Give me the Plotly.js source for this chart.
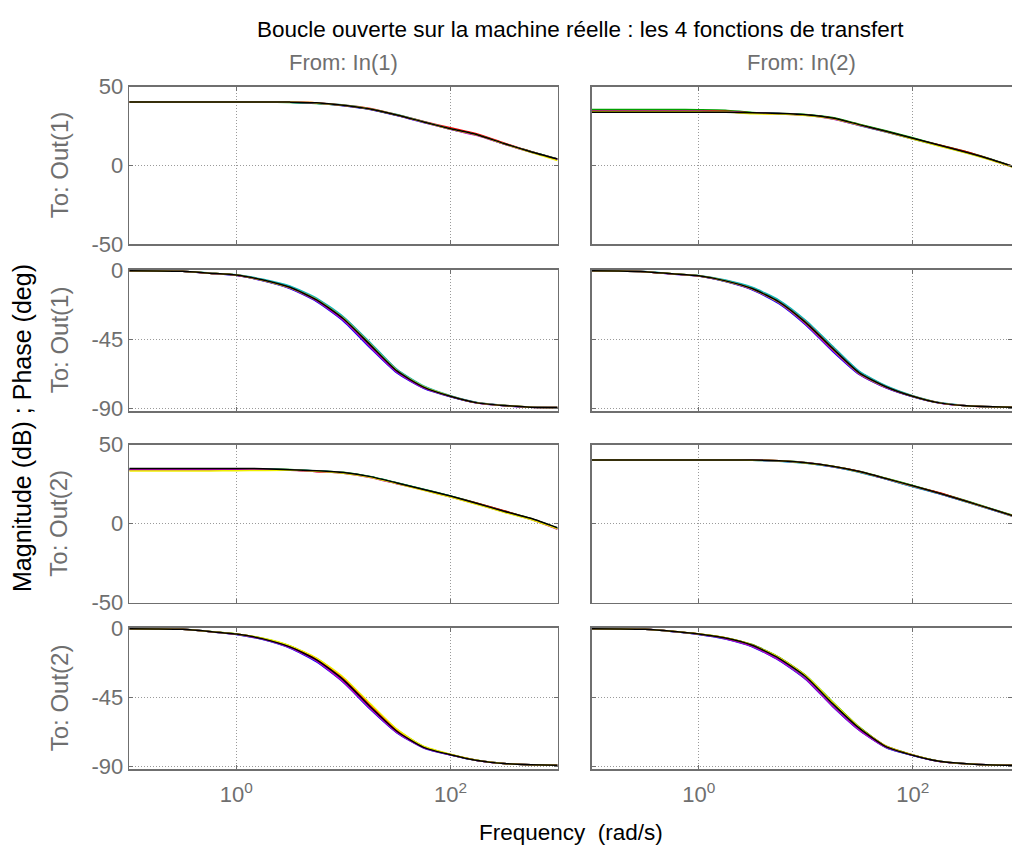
<!DOCTYPE html>
<html>
<head>
<meta charset="utf-8">
<script src="https://cdn.plot.ly/plotly-3.0.1.min.js"></script>
<style>html,body{margin:0;padding:0;background:#fff;}#chart{width:1012px;height:853px;}</style>
</head>
<body>
<div id="chart"></div>
<script>
// Frequencies (rad/s), quarter-decade points
const freq = [0.1, 0.178, 0.316, 0.562, 1, 1.78, 3.16, 5.62, 10, 17.8, 31.6, 56.2, 100, 178, 316, 562, 1000];

// Series order: blue, green, red, cyan, magenta, yellow, black
const seriesNames = ['b', 'g', 'r', 'c', 'm', 'y', 'k'];
const seriesColors = ['#0000ff', '#00a000', '#ff0000', '#10b8b8', '#c000c0', '#f0f000', '#000000'];

// Magnitude (dB) : Out(1) from In(1)
const magOut1In1 = [
  [40.3,40.3,40.3,40.3,40.3,40.3,40.1,39.5,37.9,35.5,31.7,27.3,23.0,19.2,13.6,8.5,3.8],
  [40.3,40.3,40.3,40.3,40.3,40.3,40.0,39.3,38.0,35.6,31.8,27.8,23.1,19.4,13.7,8.9,4.1],
  [40.3,40.3,40.3,40.3,40.3,40.3,40.2,39.7,38.3,36.1,32.2,27.9,23.9,19.9,14.2,8.8,4.0],
  [40.3,40.3,40.3,40.3,40.3,40.3,40.1,39.4,38.3,35.9,32.3,27.8,23.2,19.3,13.8,8.6,3.9],
  [40.3,40.3,40.3,40.3,40.3,40.3,40.2,39.6,38.1,35.7,31.9,27.4,22.9,18.9,13.5,8.4,3.7],
  [40.3,40.3,40.3,40.3,40.3,40.3,40.2,39.7,38.2,35.8,32.0,27.5,23.1,19.3,13.7,8.3,3.0],
  [40.3,40.3,40.3,40.3,40.3,40.3,40.2,39.8,38.2,35.8,32.0,27.6,23.3,19.5,13.9,8.7,4.0]
];
// Magnitude (dB) : Out(1) from In(2)
const magOut1In2 = [
  [34.4,34.4,34.4,34.4,34.4,34.3,33.4,32.9,32.1,30.0,25.7,21.6,17.0,12.6,8.2,3.3,-2.4],
  [35.5,35.5,35.5,35.5,35.4,35.1,33.6,33.1,32.4,30.4,26.2,22.0,17.5,13.0,8.6,3.6,-2.0],
  [34.5,34.5,34.5,34.5,34.5,34.4,33.4,32.7,32.0,29.9,25.6,21.3,16.9,12.9,8.7,3.5,-2.1],
  [34.2,34.2,34.2,34.2,34.2,34.0,33.3,32.8,31.9,29.6,25.4,21.2,16.7,12.4,8.0,3.2,-2.5],
  [34.3,34.3,34.3,34.3,34.3,34.1,33.2,32.9,31.8,29.5,25.5,21.4,16.9,12.5,8.1,3.1,-2.6],
  [34.0,34.0,34.0,34.0,34.0,33.9,32.8,32.6,31.7,29.8,25.8,21.5,16.8,12.2,7.8,2.9,-2.7],
  [33.7,33.7,33.7,33.7,33.7,33.7,33.5,33.0,32.2,30.1,25.9,21.7,17.2,12.8,8.3,3.4,-2.3]
];
// Magnitude (dB) : Out(2) from In(1)
const magOut2In1 = [
  [34.3,34.3,34.3,34.3,34.4,34.5,34.0,33.3,32.1,29.5,25.5,21.4,17.1,12.5,7.6,3.0,-3.0],
  [34.4,34.4,34.4,34.4,34.5,34.7,34.3,33.4,32.5,29.9,25.9,21.8,17.6,13.0,8.1,3.3,-2.8],
  [34.2,34.2,34.2,34.2,34.3,34.4,34.1,32.9,32.3,29.6,25.6,21.5,17.3,12.9,8.2,3.1,-3.1],
  [34.3,34.3,34.3,34.3,34.4,34.6,34.2,33.4,32.2,29.7,25.7,21.6,17.4,12.6,7.7,2.9,-3.0],
  [34.1,34.1,34.1,34.1,34.2,34.3,33.9,33.1,32.0,29.3,25.3,21.3,17.0,12.4,7.5,2.8,-3.6],
  [33.4,33.4,33.4,33.4,33.5,33.7,33.8,33.2,32.0,29.4,25.4,21.1,16.9,12.2,7.3,2.7,-3.2],
  [35.0,35.0,35.0,35.0,35.0,34.8,34.2,33.5,32.4,29.8,25.8,21.7,17.5,12.8,7.9,3.4,-2.6]
];
// Magnitude (dB) : Out(2) from In(2)
const magOut2In2 = [
  [40.3,40.3,40.3,40.3,40.3,40.3,40.2,39.7,38.4,36.0,32.7,28.3,23.6,19.0,13.9,8.7,3.5],
  [40.3,40.3,40.3,40.3,40.3,40.3,40.3,39.8,38.7,36.4,33.2,28.8,24.2,19.5,14.5,9.2,3.9],
  [40.3,40.3,40.3,40.3,40.3,40.3,40.3,39.9,38.5,36.2,33.1,28.5,23.8,19.6,14.3,8.9,3.6],
  [40.3,40.3,40.3,40.3,40.3,40.3,40.2,39.6,38.3,36.1,32.6,28.2,23.4,18.9,13.8,8.6,3.2],
  [40.3,40.3,40.3,40.3,40.3,40.3,40.3,39.8,38.5,36.2,32.9,28.4,23.7,19.1,14.0,8.8,3.4],
  [40.3,40.3,40.3,40.3,40.3,40.3,40.2,39.8,38.4,36.3,32.8,28.6,23.9,19.2,14.1,8.9,3.6],
  [40.3,40.3,40.3,40.3,40.3,40.3,40.3,39.9,38.6,36.3,33.0,28.6,24.0,19.3,14.2,9.0,3.7]
];
// Phase (deg) : Out(1) from In(1)
const phaseOut1In1 = [
  [-0.2,-0.3,-0.6,-1.9,-3.2,-6.8,-11.8,-20.3,-33.0,-50.5,-66.8,-76.8,-82.3,-86.4,-88.1,-89.1,-89.4],
  [-0.2,-0.3,-0.6,-1.8,-3.1,-6.5,-11.3,-19.6,-32.0,-49.2,-66.0,-76.2,-82.1,-86.2,-88.0,-89.0,-89.4],
  [-0.2,-0.3,-0.6,-1.8,-3.0,-6.2,-10.8,-18.6,-30.6,-47.4,-64.6,-75.6,-81.8,-86.2,-87.9,-89.0,-89.4],
  [-0.2,-0.3,-0.6,-1.7,-2.8,-5.8,-10.2,-18.0,-30.2,-47.0,-64.5,-75.3,-81.6,-86.0,-87.9,-89.0,-89.4],
  [-0.2,-0.3,-0.6,-1.9,-3.1,-6.6,-11.5,-19.8,-32.5,-49.8,-66.3,-76.5,-82.2,-86.4,-88.1,-89.1,-89.4],
  [-0.2,-0.3,-0.6,-1.8,-3.0,-6.4,-11.2,-19.0,-31.2,-48.2,-65.2,-75.8,-81.9,-86.3,-88.0,-89.1,-89.4],
  [-0.2,-0.3,-0.6,-1.8,-3.0,-6.3,-11.0,-19.2,-31.5,-48.5,-65.5,-76.0,-82.0,-86.3,-88.0,-89.1,-89.4]
];
// Phase (deg) : Out(1) from In(2)
const phaseOut1In2 = [
  [-0.2,-0.3,-0.8,-2.3,-3.7,-7.3,-12.6,-21.6,-35.5,-52.6,-67.8,-76.5,-82.3,-86.4,-88.2,-88.9,-89.2],
  [-0.2,-0.3,-0.8,-2.2,-3.6,-7.0,-12.1,-20.9,-34.5,-51.4,-67.2,-76.1,-82.1,-86.3,-88.2,-88.9,-89.2],
  [-0.2,-0.3,-0.8,-2.2,-3.5,-6.6,-11.4,-19.8,-33.0,-49.8,-66.0,-75.4,-81.8,-86.2,-88.1,-88.9,-89.2],
  [-0.2,-0.3,-0.7,-2.1,-3.3,-6.3,-11.0,-19.3,-32.5,-49.2,-65.6,-75.1,-81.6,-86.1,-88.1,-88.9,-89.2],
  [-0.2,-0.3,-0.8,-2.3,-3.6,-7.1,-12.3,-21.2,-35.0,-52.0,-67.5,-76.3,-82.2,-86.4,-88.2,-88.9,-89.2],
  [-0.2,-0.3,-0.8,-2.2,-3.5,-6.9,-11.9,-20.7,-34.2,-51.0,-66.9,-75.9,-82.0,-86.3,-88.2,-88.9,-89.2],
  [-0.2,-0.3,-0.8,-2.2,-3.5,-6.8,-11.8,-20.5,-34.0,-50.8,-66.7,-75.8,-82.0,-86.3,-88.2,-88.9,-89.2]
];
// Phase (deg) : Out(2) from In(1)
const phaseOut2In1 = [
  [-0.2,-0.3,-0.6,-2.1,-3.9,-7.3,-12.8,-21.8,-35.2,-52.6,-68.0,-77.9,-82.5,-86.1,-88.0,-88.8,-89.2],
  [-0.2,-0.3,-0.6,-2.0,-3.6,-6.5,-11.4,-19.6,-32.3,-49.6,-66.0,-77.0,-82.1,-85.9,-88.0,-88.8,-89.2],
  [-0.2,-0.3,-0.6,-2.0,-3.7,-6.7,-11.6,-19.8,-32.6,-50.0,-66.4,-77.2,-82.2,-86.0,-88.0,-88.8,-89.2],
  [-0.2,-0.3,-0.6,-2.0,-3.8,-7.0,-12.3,-21.0,-34.3,-51.8,-67.6,-77.7,-82.4,-86.0,-88.0,-88.8,-89.2],
  [-0.2,-0.3,-0.6,-2.1,-3.8,-7.1,-12.5,-21.3,-34.8,-52.2,-67.8,-77.8,-82.4,-86.1,-88.0,-88.8,-89.2],
  [-0.2,-0.3,-0.6,-2.0,-3.6,-6.4,-11.2,-19.3,-31.8,-49.0,-65.6,-76.8,-82.0,-85.9,-88.0,-88.8,-89.2],
  [-0.2,-0.3,-0.6,-2.0,-3.7,-6.8,-12.0,-20.5,-33.5,-51.0,-67.0,-77.5,-82.3,-86.0,-88.0,-88.8,-89.2]
];
// Phase (deg) : Out(2) from In(2)
const phaseOut2In2 = [
  [-0.2,-0.3,-0.6,-2.0,-3.9,-6.9,-11.9,-20.8,-33.2,-50.8,-66.3,-77.6,-82.8,-86.7,-88.2,-89.0,-89.2],
  [-0.2,-0.3,-0.6,-1.9,-3.6,-6.0,-10.5,-18.7,-30.5,-47.8,-64.2,-76.6,-82.4,-86.5,-88.2,-89.0,-89.2],
  [-0.2,-0.3,-0.6,-1.9,-3.7,-6.2,-10.8,-19.1,-31.0,-48.4,-64.6,-76.8,-82.5,-86.6,-88.2,-89.0,-89.2],
  [-0.2,-0.3,-0.6,-2.0,-3.8,-6.6,-11.5,-20.2,-32.6,-50.2,-65.9,-77.4,-82.7,-86.6,-88.2,-89.0,-89.2],
  [-0.2,-0.3,-0.6,-2.0,-3.8,-6.7,-11.7,-20.5,-32.9,-50.5,-66.1,-77.5,-82.7,-86.7,-88.2,-89.0,-89.2],
  [-0.2,-0.3,-0.6,-1.9,-3.6,-6.1,-10.7,-18.9,-30.8,-48.0,-64.4,-76.7,-82.4,-86.5,-88.2,-89.0,-89.2],
  [-0.2,-0.3,-0.6,-1.9,-3.7,-6.3,-11.0,-19.5,-31.5,-49.0,-65.0,-77.0,-82.6,-86.6,-88.2,-89.0,-89.2]
];

// Tick labels
const xTickVals = [1, 100];
const xTickText = ['10<sup>0</sup>', '10<sup>2</sup>'];
const magTicks = [-50, 0, 50];
const magTickText = ['-50', '0', '50'];
const phaseTicks = [-90, -45, 0];
const phaseTickText = ['-90', '-45', '0'];
const rowLabels = ['To: Out(1)', 'To: Out(1)', 'To: Out(2)', 'To: Out(2)'];
const colLabels = ['From: In(1)', 'From: In(2)'];
const mainTitle = 'Boucle ouverte sur la machine réelle : les 4 fonctions de transfert';
const xLabel = 'Frequency\u00a0\u00a0(rad/s)';
const yLabel = 'Magnitude (dB) ; Phase (deg)';

// grid: [row][col] -> data
const panels = [
  [magOut1In1, magOut1In2],
  [phaseOut1In1, phaseOut1In2],
  [magOut2In1, magOut2In2],
  [phaseOut2In1, phaseOut2In2]
];
const isPhaseRow = [false, true, false, true];

const W = 1012, H = 853;
const colPx = [[129.3, 557.5], [591.7, 1012]];
const rowPx = [[86.7, 244], [269.5, 411], [444.7, 602.7], [627.5, 769]];
const colRanges = [[-1, 3], [-1, 2.928]];

const FONT = 'Liberation Sans, Arial, Helvetica, sans-serif';
const GRAY = '#6f6f6f';
const FS = 22;
const FS_ROT = 24;
const traces = [];
const layout = {
  width: W, height: H,
  margin: {l: 0, r: 0, t: 0, b: 0},
  paper_bgcolor: '#ffffff', plot_bgcolor: '#ffffff',
  showlegend: false,
  font: {family: FONT, size: FS, color: GRAY},
  annotations: []
};

for (let r = 0; r < 4; r++) {
  for (let c = 0; c < 2; c++) {
    const n = r * 2 + c + 1;
    const xa = 'x' + (n === 1 ? '' : n);
    const ya = 'y' + (n === 1 ? '' : n);
    const data = panels[r][c];
    for (let s = 0; s < data.length; s++) {
      traces.push({
        type: 'scatter', mode: 'lines',
        x: freq, y: data[s],
        xaxis: xa, yaxis: ya,
        name: seriesNames[s],
        line: {color: seriesColors[s], width: 1.5, shape: 'spline', smoothing: 0.6},
        hoverinfo: 'skip'
      });
    }
    const xKey = 'xaxis' + (n === 1 ? '' : n);
    const yKey = 'yaxis' + (n === 1 ? '' : n);
    layout[xKey] = {
      type: 'log',
      domain: [colPx[c][0] / W, colPx[c][1] / W],
      range: colRanges[c],
      anchor: ya,
      tickmode: 'array', tickvals: xTickVals, ticktext: xTickText,
      showticklabels: r === 3,
      ticks: 'inside', ticklen: 4, tickcolor: GRAY, tickwidth: 1,
      showline: true, linecolor: GRAY, linewidth: 1.6, mirror: 'allticks',
      showgrid: true, gridcolor: '#9a9a9a', gridwidth: 1, griddash: '1px,2px',
      zeroline: false, automargin: false, fixedrange: true,
      ticklabelstandoff: 5,
      tickfont: {family: FONT, size: FS, color: GRAY}
    };
    layout[yKey] = {
      domain: [1 - rowPx[r][1] / H, 1 - rowPx[r][0] / H],
      range: isPhaseRow[r] ? [-91.6, 0.6] : [-50, 50],
      anchor: xa,
      tickmode: 'array',
      tickvals: isPhaseRow[r] ? phaseTicks : magTicks,
      ticktext: isPhaseRow[r] ? phaseTickText : magTickText,
      showticklabels: c === 0,
      ticks: 'inside', ticklen: 4, tickcolor: GRAY, tickwidth: 1,
      showline: true, linecolor: GRAY, linewidth: 1.6, mirror: 'allticks',
      showgrid: true, gridcolor: '#9a9a9a', gridwidth: 1, griddash: '1px,2px',
      zeroline: false, automargin: false, fixedrange: true,
      tickfont: {family: FONT, size: FS, color: GRAY}
    };
  }
  // row label
  layout.annotations.push({
    text: rowLabels[r], xref: 'paper', yref: 'paper',
    x: 59 / W, y: 1 - ((rowPx[r][0] + rowPx[r][1]) / 2) / H,
    textangle: -90, showarrow: false, xanchor: 'center', yanchor: 'middle',
    font: {family: FONT, size: FS_ROT, color: GRAY}
  });
}
for (let c = 0; c < 2; c++) {
  layout.annotations.push({
    text: colLabels[c], xref: 'paper', yref: 'paper',
    x: ((colPx[c][0] + colPx[c][1]) / 2) / W, y: 1 - 62 / H,
    showarrow: false, xanchor: 'center', yanchor: 'middle',
    font: {family: FONT, size: FS, color: GRAY}
  });
}
layout.annotations.push({
  text: mainTitle, xref: 'paper', yref: 'paper',
  x: 580 / W, y: 1 - 29 / H, showarrow: false, xanchor: 'center', yanchor: 'middle',
  font: {family: FONT, size: 22.5, color: '#000000'}
});
layout.annotations.push({
  text: xLabel, xref: 'paper', yref: 'paper',
  x: 571 / W, y: 1 - 832 / H, showarrow: false, xanchor: 'center', yanchor: 'middle',
  font: {family: FONT, size: 22.5, color: '#000000'}
});
layout.annotations.push({
  text: yLabel, xref: 'paper', yref: 'paper',
  x: 22 / W, y: 1 - 428 / H, textangle: -90, showarrow: false, xanchor: 'center', yanchor: 'middle',
  font: {family: FONT, size: 25, color: '#000000'}
});

Plotly.newPlot('chart', traces, layout, {staticPlot: true, displayModeBar: false});
</script>
</body>
</html>
